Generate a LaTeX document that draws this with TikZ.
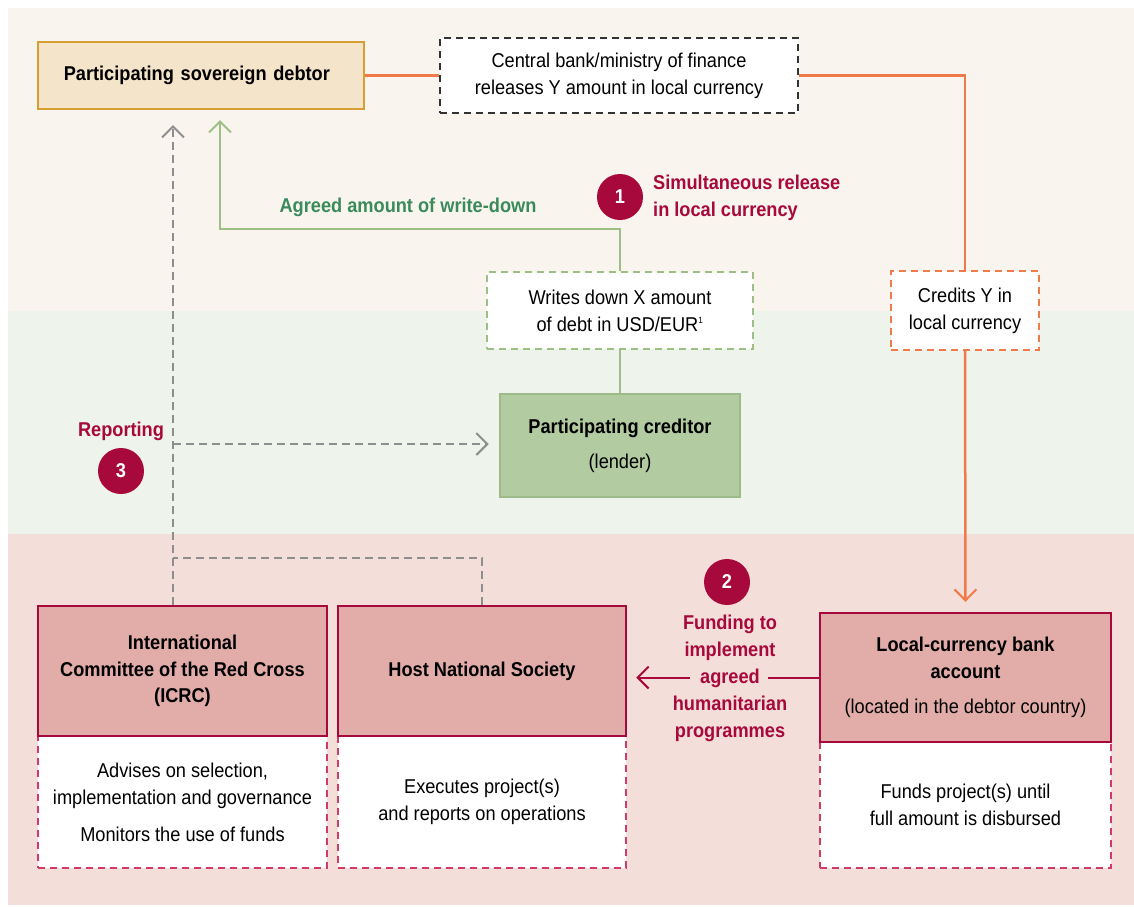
\documentclass[tikz,border=0pt]{standalone}
\usepackage{fontspec}
\setmainfont[FakeStretch=0.91]{Liberation Sans}
\usetikzlibrary{arrows.meta,calc}
\definecolor{bandA}{HTML}{F9F5EE}
\definecolor{bandB}{HTML}{EEF3EB}
\definecolor{bandC}{HTML}{F4DEDA}
\definecolor{debtfill}{HTML}{F3E4CA}
\definecolor{gold}{HTML}{D69E33}
\definecolor{orangeln}{HTML}{F07A4A}
\definecolor{greenln}{HTML}{9DBF86}
\definecolor{greentxt}{HTML}{3A8A5C}
\definecolor{credfill}{HTML}{B3CBA1}
\definecolor{credbord}{HTML}{9DBB88}
\definecolor{crimson}{HTML}{A8093C}
\definecolor{headfill}{HTML}{E2ADA9}
\definecolor{pinkdash}{HTML}{CF3A68}
\definecolor{grayln}{HTML}{8E8E8E}
\begin{document}
\begin{tikzpicture}[x=1pt,y=-1pt,
  every node/.style={font=\fontsize{20}{27}\selectfont, inner sep=0pt},
  solidbox/.style={draw, line width=2.5pt, align=center},
  dashbox/.style={draw, fill=white, line width=1.5pt, dash pattern=on 7pt off 5pt, align=center},
  header/.style={solidbox, draw=crimson, fill=headfill, minimum height=130pt},
  lowerbox/.style={dashbox, draw=pinkdash, minimum height=132pt},
  numcirc/.style={circle, fill=crimson, minimum size=46pt, text=white, font=\fontsize{20}{24}\selectfont\bfseries},
  redlabel/.style={text=crimson, font=\fontsize{20}{27}\selectfont\bfseries},
  orangeline/.style={draw=orangeln, line width=2.5pt},
  greenline/.style={draw=greenln, line width=2pt},
  grayline/.style={draw=grayln, line width=2.5pt, dash pattern=on 8pt off 5pt},
  crimsonline/.style={draw=crimson, line width=2pt},
  barb/.style={-{Straight Barb[length=11pt,width=22pt,line width=2pt]}}
]
\useasboundingbox (0,0) rectangle (1134,906);
% background bands
\fill[bandA] (8,8) rectangle (1134,311);
\fill[bandB] (8,311) rectangle (1134,534);
\fill[bandC] (8,534) rectangle (1134,905);

% top row
\node[solidbox, draw=gold, fill=debtfill, minimum width=326pt, minimum height=67pt,
      text width=274pt, inner xsep=26pt, align=left, font=\fontsize{20}{27}\selectfont\bfseries]
      (debtor) at (200.75,75.5) {Participating sovereign debtor};
\node[dashbox, draw=black!80, minimum width=358pt, minimum height=75pt]
      (cb) at (619,75.5) {Central bank/ministry of finance\\releases Y amount in local currency};

% middle
\node[dashbox, draw=greenln, minimum width=266pt, minimum height=77pt]
      (wd) at (620,310.5) {Writes down X amount\\of debt in USD/EUR\textsuperscript{\fontsize{9}{9}\selectfont 1}};
\node[dashbox, draw=orangeln, minimum width=148pt, minimum height=79pt]
      (cr) at (965,310.5) {Credits Y in\\local currency};
\node[solidbox, draw=credbord, fill=credfill, minimum width=240pt, minimum height=103pt]
      (cred) at (620,445.5) {\textbf{Participating creditor}\\[8pt](lender)};

% bottom boxes
\node[lowerbox, minimum width=289pt] (icrcb) at (182.5,802)
      {Advises on selection,\\implementation and governance\\[10pt]Monitors the use of funds};
\node[header, minimum width=289pt, font=\fontsize{20}{26.5}\selectfont\bfseries] (icrc) at (182.5,671)
      {International\\Committee of the Red Cross\\(ICRC)};
\node[lowerbox, minimum width=288pt] (hostb) at (482,802)
      {Executes project(s)\\and reports on operations};
\node[header, minimum width=288pt, font=\fontsize{20}{27}\selectfont\bfseries] (host) at (482,671)
      {Host National Society};
\node[lowerbox, minimum width=291pt, minimum height=126pt] (locb) at (965.5,805)
      {Funds project(s) until\\full amount is disbursed};
\node[header, minimum width=291pt, minimum height=129pt] (loc) at (965.5,677.5)
      {\textbf{Local-currency bank}\\\textbf{account}\\[8pt](located in the debtor country)};

% number circles and labels
\node[numcirc] (c1) at (620,197) {1};
\node[redlabel, anchor=west, align=left] (l1) at (653,198) {Simultaneous release\\in local currency};
\node[numcirc] (c2) at (727,582) {2};
\node[numcirc] (c3) at (121,471) {3};
\node[redlabel] (l3) at (121,431) {Reporting};
\node[text=greentxt, font=\fontsize{20}{27}\selectfont\bfseries] (l0) at (408,207) {Agreed amount of write-down};
\node[redlabel, align=center] (l2) at (730,678)
      {Funding to\\implement\\agreed\\humanitarian\\programmes};

% coordinates
\coordinate (oc) at (965,75.5);
\coordinate (gturn) at (620,229);
\coordinate (gtop) at (220,109);
\coordinate (gx) at (173,0);
\coordinate (rep) at (173,444);
\coordinate (hj) at (173,558);
\coordinate (dtop) at (173,109);
\coordinate (gapR) at (768,677);
\coordinate (gapL) at (690,677);

% orange flow
\draw[orangeline] (debtor.east) -- (cb.west);
\draw[orangeline] (cb.east) -- (oc) -- (cr.north);
\draw[orangeline, barb, shorten >=10pt] (cr.south) -- (loc.north);

% green flow
\draw[greenline] (cred.north) -- (wd.south);
\draw[greenline, barb, shorten >=11pt] (wd.north) -- (gturn) -| (gtop);

% gray reporting
\draw[grayline, barb, shorten >=16pt] (icrc.north -| gx) -- (dtop);
\draw[grayline, barb, shorten >=10pt] (rep) -- (rep -| cred.west);
\draw[grayline] (host.north) |- (hj);

% crimson funding arrow, broken by its label
\draw[crimsonline] (loc.west) -- (loc.west -| gapR);
\draw[crimsonline, barb, shorten >=9pt] (loc.west -| gapL) -- (loc.west -| host.east);
\end{tikzpicture}
\end{document}
